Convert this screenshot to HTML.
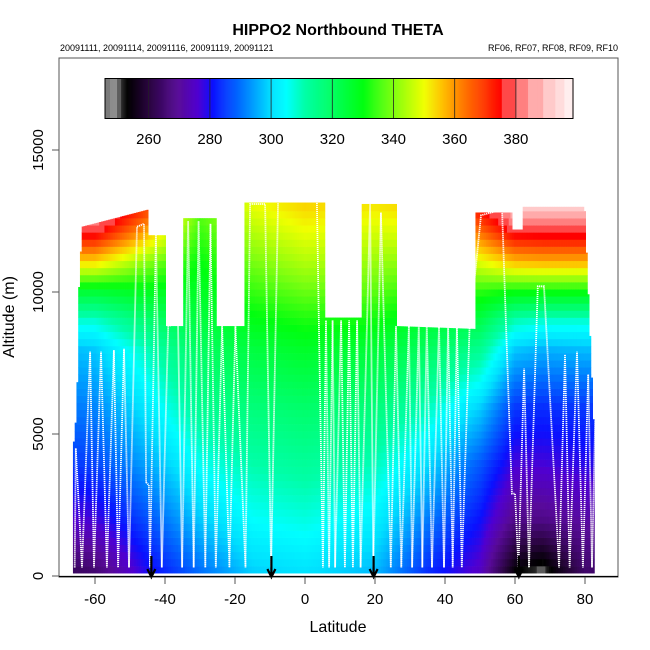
<!DOCTYPE html>
<html><head><meta charset="utf-8">
<style>
html,body{margin:0;padding:0;background:#fff;}
svg{display:block;font-family:"Liberation Sans","DejaVu Sans",sans-serif;}
</style></head>
<body>
<svg id="chart" width="650" height="650" viewBox="0 0 650 650" xmlns="http://www.w3.org/2000/svg">
  <rect x="0" y="0" width="650" height="650" fill="#fff"/>
  <text x="338" y="35" text-anchor="middle" font-size="16" font-weight="bold">HIPPO2 Northbound THETA</text>
  <text x="60" y="51" font-size="9">20091111, 20091114, 20091116, 20091119, 20091121</text>
  <text x="618" y="51" text-anchor="end" font-size="9">RF06, RF07, RF08, RF09, RF10</text>
  <g id="field"></g>
  <g id="tracks"></g>
  <g id="arrows"></g>
  <g id="cbar"></g>
  <rect x="59" y="58" width="559" height="519" fill="none" stroke="#555" stroke-width="1"/>
  <line x1="59" y1="576.5" x2="618" y2="576.5" stroke="#000" stroke-width="1.2"/>
  <g id="axes"></g>
  <text x="338" y="632" text-anchor="middle" font-size="16">Latitude</text>
  <text transform="translate(14,317) rotate(-90)" text-anchor="middle" font-size="16">Altitude (m)</text>
</svg>
<script>
// ---- data ----
const profLats = [-66, -60, -45, -30, -15, 0, 20, 35, 50, 60, 68, 80, 84];
const profAlts = [0, 2000, 4000, 6000, 8000, 9000, 10000, 11000, 12000, 13000];
const profTheta = [
  [262,276,285,291,297,308,325,352,375,392],
  [264,277,286,292,298,308,325,352,375,392],
  [279,287,295,302,310,318,328,340,356,370],
  [289,298,306,314,320,324,327,330,334,338],
  [298,305,311,317,324,329,334,339,344,349],
  [300,307,313,319,327,332,338,344,349,354],
  [296,303,310,317,325,331,337,342,347,352],
  [283,291,300,310,320,326,332,340,348,355],
  [274,281,288,299,314,323,333,348,362,376],
  [252,268,277,285,298,310,330,355,375,390],
  [248,268,277,284,296,308,330,356,376,391],
  [264,271,279,285,297,308,330,356,376,392],
  [264,271,279,285,297,308,330,356,376,392]
];
const segStart = [-66.3,-65.1,-64.9,-63.7,-44.9,-40.0,-34.9,-25.4,-17.1,5.7,16.3,26.3,48.6,59.1,62.0,79.9];
const segEnd   = [-65.1,-64.9,-63.7,-44.9,-40.0,-34.9,-25.4,-17.1,5.7,16.3,26.3,48.6,59.1,62.0,79.9,82.9];
const segTopL  = [4400,6000,9300,12300,12000,8800,12600,8800,13150,9100,13100,8800,12800,12200,13000,13000];
const segTopR  = [6000,9300,12300,12900,12000,8800,12600,8800,13150,9100,13100,8700,12800,12200,13000,4200];
const trackLat = [-65.8,-65.5,-63.7,-61.4,-60.3,-58.3,-56.6,-54.6,-53.4,-51.7,-50.3,-48,-46,-45.4,-44.6,-44.3,-42.6,-40.9,-39.1,-36.3,-35.1,-33.4,-31.8,-30.4,-28.5,-27.0,-25.5,-23.7,-21.6,-19.9,-17.0,-15.7,-11.4,-9.7,-7.7,3.4,5.1,6.0,6.9,7.9,8.6,10.3,11.4,12.6,13.7,14.9,15.9,18.6,19.5,21.7,24.5,26.0,27.5,29.7,30.6,32.5,33.5,34.8,36.3,38.3,39.7,40.9,42.2,43.4,44.8,47.0,50.3,56.3,59.1,60.0,61.0,62.6,64.0,66.5,68.3,72.6,74.3,75.6,77.7,79.4,80.9,82.0,82.9];
const trackAlt = [300,4500,300,7900,300,7900,300,7950,300,8000,300,12300,12400,3300,3200,300,12000,300,8800,8900,300,12500,300,12500,300,12400,300,8800,300,8800,300,13100,13100,300,13200,13200,300,9000,300,9000,300,9000,300,9000,300,9000,300,13100,300,12800,300,8800,300,8800,300,8800,300,8800,300,8800,300,8800,300,8800,300,8700,12700,12900,2900,2900,300,7300,300,10200,10200,300,7800,300,7900,300,7100,300,5500];
const arrowLats = [-43.9, -9.6, 19.6, 61.1];
const xTicks = [-60,-40,-20,0,20,40,60,80];
const yTicks = [0,5000,10000,15000];
const cbTicks = [260,280,300,320,340,360,380];
const cmapVals = [245.7,247.5,247.5,249.5,249.5,251,251,253,260,270,276,281,290,300,305,311,320,330,340,350,356,362,375.5,375.5,380,380,384,384,389,389,393,393,396,396,399];
const cmapCols = ['#7a7a7a','#7a7a7a','#8c8c8c','#8c8c8c','#5a5a5a','#5a5a5a','#2a2a2a','#000000','#2a0540','#580a9a','#5000d0','#0a10ff','#0070ff','#00e0ff','#00ffff','#00ffa8','#00ff60','#00ff10','#80ff10','#f0ff00','#ffc000','#ff8000','#ff0000','#ff4848','#ff4848','#ff8080','#ff8080','#ffaaaa','#ffaaaa','#ffcaca','#ffcaca','#ffdcdc','#ffdcdc','#ffeeee','#ffeeee'];

// ---- scales ----
const NS='http://www.w3.org/2000/svg';
function xS(lat){return 305+3.5*lat;}
function yS(alt){return 576-0.0284*alt;}
function cbX(v){return 148.7+(v-260)*3.06;}
function hex(c){return [parseInt(c.slice(1,3),16),parseInt(c.slice(3,5),16),parseInt(c.slice(5,7),16)];}
function cmap(v){
  if(v<=cmapVals[0]) return cmapCols[0];
  for(let i=0;i<cmapVals.length-1;i++){
    if(v>=cmapVals[i]&&v<=cmapVals[i+1]){
      const a=hex(cmapCols[i]),b=hex(cmapCols[i+1]);
      const t=cmapVals[i+1]===cmapVals[i]?0:(v-cmapVals[i])/(cmapVals[i+1]-cmapVals[i]);
      return 'rgb('+a.map((x,k)=>Math.round(x+(b[k]-x)*t)).join(',')+')';
    }
  }
  return cmapCols[cmapCols.length-1];
}
function interp1(xs,ys,x){
  if(x<=xs[0])return ys[0];
  for(let i=0;i<xs.length-1;i++){if(x<=xs[i+1]){const t=(x-xs[i])/(xs[i+1]-xs[i]);return ys[i]+(ys[i+1]-ys[i])*t;}}
  return ys[ys.length-1];
}
function theta(lat,alt){
  const col=profLats.map((_,i)=>interp1(profAlts,profTheta[i],alt));
  return interp1(profLats,col,lat);
}
function topAlt(lat){
  for(let i=0;i<segStart.length;i++){
    if(lat>=segStart[i]&&lat<segEnd[i]){const t=(lat-segStart[i])/(segEnd[i]-segStart[i]);return segTopL[i]+(segTopR[i]-segTopL[i])*t;}
  }
  return -1;
}

// ---- field ----
const field=document.getElementById('field');
const dLat=0.5,dAlt=250;
for(let lat=segStart[0];lat<segEnd[segEnd.length-1];lat+=dLat){
  const top=topAlt(lat+dLat/2);
  if(top<0)continue;
  for(let a=100;a<top;a+=dAlt){
    const a2=Math.min(a+dAlt,top);
    const r=document.createElementNS(NS,'rect');
    r.setAttribute('x',xS(lat).toFixed(2));
    r.setAttribute('y',yS(a2).toFixed(2));
    r.setAttribute('width',(3.5*dLat+0.3).toFixed(2));
    r.setAttribute('height',(yS(a)-yS(a2)+0.3).toFixed(2));
    r.setAttribute('fill',cmap(theta(lat+dLat/2,(a+a2)/2)));
    
    
    field.appendChild(r);
  }
}

// ---- tracks ----
const tracks=document.getElementById('tracks');
const pl=document.createElementNS(NS,'polyline');
pl.setAttribute('points',trackLat.map((l,i)=>xS(l).toFixed(1)+','+yS(trackAlt[i]).toFixed(1)).join(' '));
pl.setAttribute('fill','none');
pl.setAttribute('stroke','#fff');
pl.setAttribute('stroke-width','1.8');
pl.setAttribute('stroke-dasharray','1.2 0.8');


tracks.appendChild(pl);

// ---- arrows ----
const arrows=document.getElementById('arrows');
arrowLats.forEach(l=>{
  const x=xS(l);
  const g=document.createElementNS(NS,'path');
  g.setAttribute('d',`M${x},556 L${x},576 M${x-4},569 L${x},577 L${x+4},569`);
  g.setAttribute('stroke','#000');g.setAttribute('stroke-width','2.2');g.setAttribute('fill','none');
  
  
  arrows.appendChild(g);
});

// ---- axes ----
const axes=document.getElementById('axes');
xTicks.forEach(v=>{
  const x=xS(v);
  const t=document.createElementNS(NS,'line');
  t.setAttribute('x1',x);t.setAttribute('x2',x);t.setAttribute('y1',577);t.setAttribute('y2',584);
  t.setAttribute('stroke','#555');
  
  
  axes.appendChild(t);
  const tx=document.createElementNS(NS,'text');
  tx.setAttribute('x',x);tx.setAttribute('y',604);tx.setAttribute('text-anchor','middle');tx.setAttribute('font-size','15');
  tx.textContent=v;
  
  
  axes.appendChild(tx);
});
yTicks.forEach(v=>{
  const y=yS(v);
  const t=document.createElementNS(NS,'line');
  t.setAttribute('x1',52);t.setAttribute('x2',59);t.setAttribute('y1',y);t.setAttribute('y2',y);
  t.setAttribute('stroke','#555');
  
  
  axes.appendChild(t);
  const tx=document.createElementNS(NS,'text');
  tx.setAttribute('transform',`translate(43,${y}) rotate(-90)`);tx.setAttribute('text-anchor','middle');tx.setAttribute('font-size','15');
  tx.textContent=v;
  
  
  axes.appendChild(tx);
});

// ---- colour bar ----
const cbar=document.getElementById('cbar');
for(let v=245.7;v<398.7;v+=0.33){
  const r=document.createElementNS(NS,'rect');
  r.setAttribute('x',cbX(v).toFixed(2));r.setAttribute('y',79);
  r.setAttribute('width',1.3);r.setAttribute('height',39);
  r.setAttribute('fill',cmap(v+0.16));
  
  
  cbar.appendChild(r);
}
cbTicks.forEach(v=>{
  const x=cbX(v);
  const l=document.createElementNS(NS,'line');
  l.setAttribute('x1',x);l.setAttribute('x2',x);l.setAttribute('y1',79);l.setAttribute('y2',118);
  l.setAttribute('stroke','#222');l.setAttribute('stroke-width','0.8');
  
  
  cbar.appendChild(l);
  const tx=document.createElementNS(NS,'text');
  tx.setAttribute('x',x);tx.setAttribute('y',144);tx.setAttribute('text-anchor','middle');tx.setAttribute('font-size','15');
  tx.textContent=v;
  
  
  cbar.appendChild(tx);
});
const bd=document.createElementNS(NS,'rect');
bd.setAttribute('x',105);bd.setAttribute('y',78.5);bd.setAttribute('width',468);bd.setAttribute('height',40);
bd.setAttribute('fill','none');bd.setAttribute('stroke','#000');bd.setAttribute('stroke-width','1');


cbar.appendChild(bd);
</script>
</body></html>
